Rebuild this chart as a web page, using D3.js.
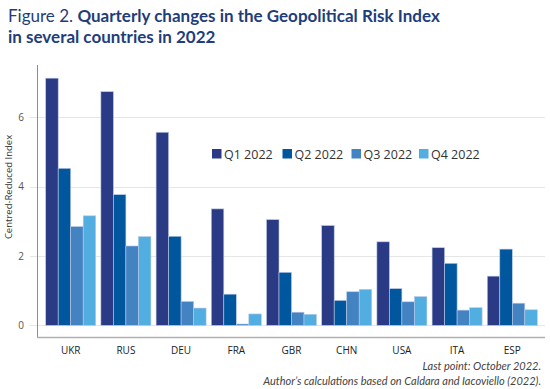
<!DOCTYPE html>
<html>
<head>
<meta charset="utf-8">
<script src="https://cdn.jsdelivr.net/npm/d3@7"></script>
<style>
  body { margin: 0; background: #fff; }
  svg { font-family: "Open Sans", "Noto Sans", sans-serif; }
</style>
</head>
<body>
<svg id="chart" width="550" height="389"></svg>
<script>
// data
var countries = ["UKR", "RUS", "DEU", "FRA", "GBR", "CHN", "USA", "ITA", "ESP"];
var quarters = ["Q1 2022", "Q2 2022", "Q3 2022", "Q4 2022"];
var q1 = [7.13, 6.74, 5.57, 3.36, 3.05, 2.88, 2.41, 2.24, 1.42];
var q2 = [4.53, 3.77, 2.57, 0.90, 1.53, 0.72, 1.06, 1.79, 2.20];
var q3 = [2.85, 2.29, 0.69, 0.04, 0.38, 0.97, 0.68, 0.44, 0.64];
var q4 = [3.16, 2.56, 0.50, 0.33, 0.32, 1.04, 0.83, 0.51, 0.45];
var yTicks = [0, 2, 4, 6];

var colors = ["#2b3a85", "#00579e", "#4383c2", "#52aee0"];
var series = [q1, q2, q3, q4];

var svg = d3.select("#chart");

// title (narrower face, closer to the original)
var title = svg.append("text")
    .attr("x", 8).attr("y", 22)
    .attr("fill", "#1f3d7a")
    .style("font-family", "Lato, sans-serif")
    .style("font-size", "17px");
title.append("tspan").text("Figure 2. ").style("font-weight", "normal");
title.append("tspan").text("Quarterly changes in the Geopolitical Risk Index").style("font-weight", "bold");
svg.append("text")
    .attr("x", 8).attr("y", 43)
    .attr("fill", "#1f3d7a")
    .style("font-family", "Lato, sans-serif")
    .style("font-size", "17px")
    .style("font-weight", "bold")
    .text("in several countries in 2022");

var x = d3.scaleBand().domain(countries).range([43.1, 539.9])
    .paddingInner(0.094).paddingOuter(0.047);
var xq = d3.scaleBand().domain(quarters).range([0, x.bandwidth()]);
var y = d3.scaleLinear().domain([-0.335, 7.51]).range([337, 65]);

// gridlines
svg.append("g")
    .selectAll("line")
    .data(yTicks)
    .join("line")
    .attr("x1", 30).attr("x2", 545)
    .attr("y1", function (d) { return Math.round(y(d)) + 0.5; })
    .attr("y2", function (d) { return Math.round(y(d)) + 0.5; })
    .attr("stroke", "#e6e6e6");

// y tick labels
svg.append("g")
    .selectAll("text")
    .data(yTicks)
    .join("text")
    .attr("x", 24)
    .attr("y", function (d) { return y(d) + 3.5; })
    .attr("text-anchor", "end")
    .attr("fill", "#555")
    .style("font-size", "10px")
    .text(function (d) { return d; });

// bars
var groups = svg.append("g")
    .selectAll("g")
    .data(series)
    .join("g")
    .attr("fill", function (d, i) { return colors[i]; });

groups.selectAll("rect")
    .data(function (d, i) {
        return d.map(function (v, j) { return { c: countries[j], q: quarters[i], v: v }; });
    })
    .join("rect")
    .attr("x", function (d) { return x(d.c) + xq(d.q); })
    .attr("y", function (d) { return y(d.v); })
    .attr("width", xq.bandwidth())
    .attr("height", function (d) { return y(0) - y(d.v); })
    .attr("stroke", "#b9c8e6")
    .attr("stroke-width", 0.6);

// axes lines
svg.append("line")
    .attr("x1", 37.5).attr("x2", 37.5).attr("y1", 65).attr("y2", 337.5)
    .attr("stroke", "#8c8c8c");
svg.append("line")
    .attr("x1", 37).attr("x2", 545).attr("y1", 337.5).attr("y2", 337.5)
    .attr("stroke", "#b0b0b0").attr("stroke-width", 1.5);

// x labels
svg.append("g")
    .selectAll("text")
    .data(countries)
    .join("text")
    .attr("x", function (d) { return x(d) + x.bandwidth() / 2; })
    .attr("y", 354)
    .attr("text-anchor", "middle")
    .attr("fill", "#222")
    .style("font-size", "10px")
    .text(function (d) { return d; });

// y axis title
svg.append("text")
    .attr("transform", "translate(12,187) rotate(-90)")
    .attr("text-anchor", "middle")
    .attr("fill", "#333")
    .style("font-size", "9.5px")
    .text("Centred-Reduced Index");

// legend
var legX = [212, 282.5, 351.5, 419];
var leg = svg.append("g")
    .selectAll("g")
    .data(quarters)
    .join("g")
    .attr("transform", function (d, i) { return "translate(" + legX[i] + ",149)"; });
leg.append("rect")
    .attr("width", 9.5).attr("height", 9.5)
    .attr("fill", function (d, i) { return colors[i]; });
leg.append("text")
    .attr("x", 12).attr("y", 9.8)
    .attr("fill", "#333")
    .style("font-size", "12.5px")
    .text(function (d) { return d; });

// notes
svg.append("text")
    .attr("x", 541).attr("y", 370)
    .attr("text-anchor", "end")
    .attr("fill", "#444")
    .style("font-family", "Lato, sans-serif")
    .style("font-size", "11px")
    .style("font-style", "italic")
    .text("Last point: October 2022.");
svg.append("text")
    .attr("x", 541).attr("y", 385)
    .attr("text-anchor", "end")
    .attr("fill", "#444")
    .style("font-family", "Lato, sans-serif")
    .style("font-size", "11px")
    .style("font-style", "italic")
    .text("Author\u2019s calculations based on Caldara and Iacoviello (2022).");
</script>
</body>
</html>
